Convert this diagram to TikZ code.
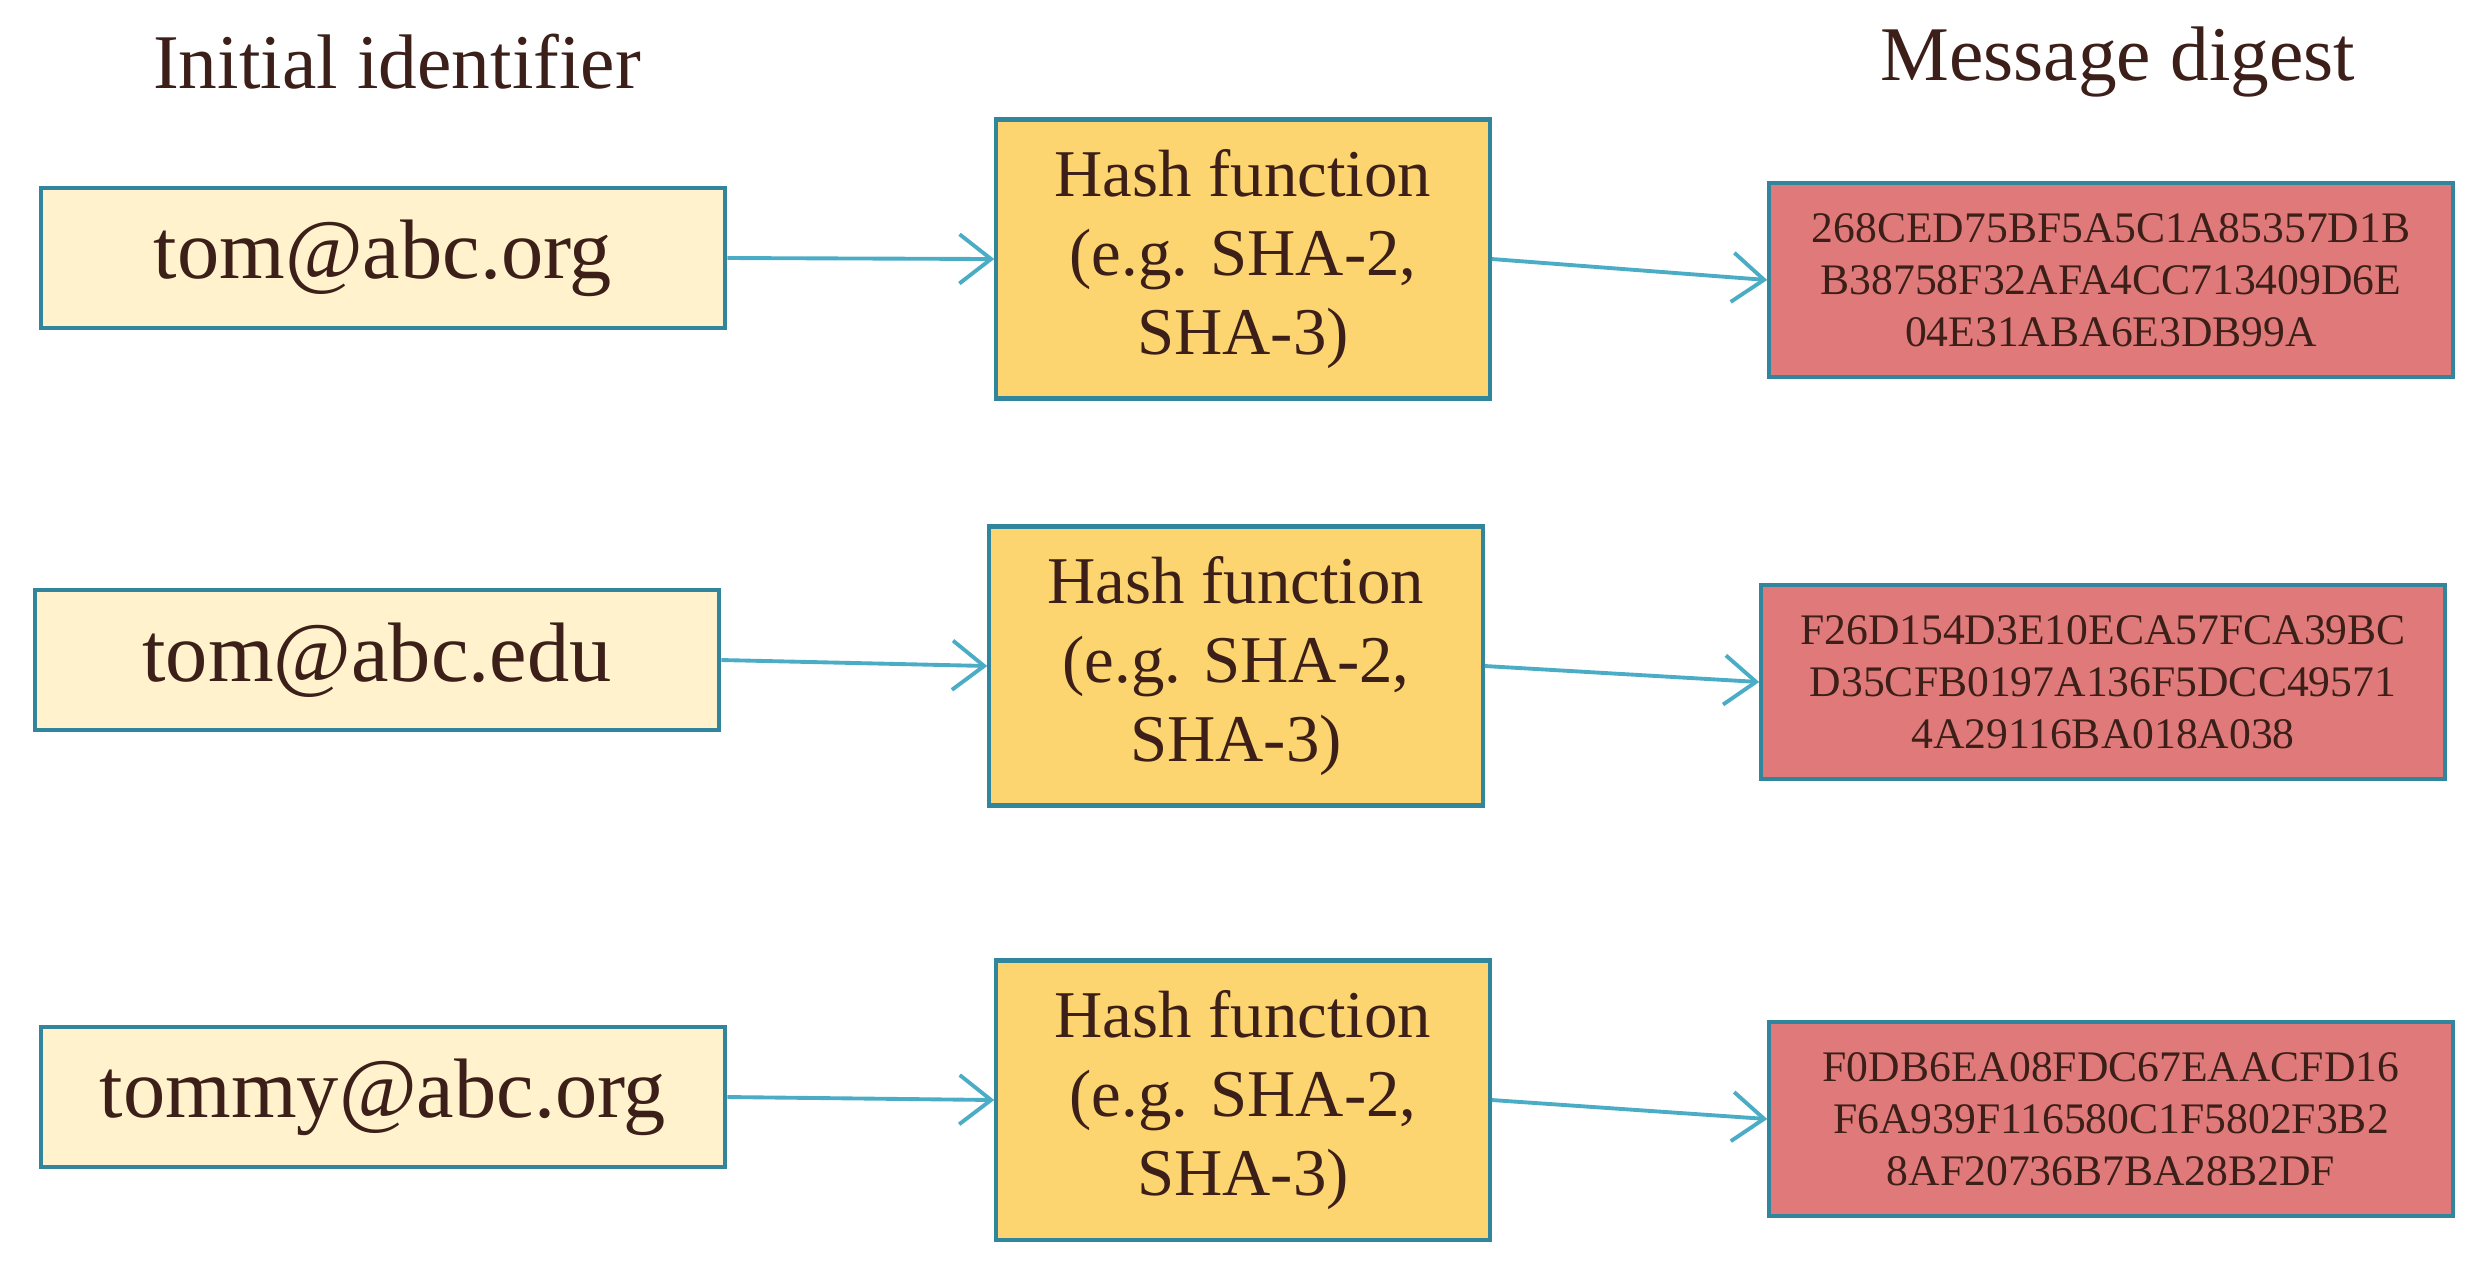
\documentclass[tikz,border=0pt]{standalone}
\usepackage{fontspec}
\setmainfont{Liberation Serif}
\usetikzlibrary{arrows.meta}
\definecolor{txt}{HTML}{3B1F18}
\definecolor{edge}{HTML}{31859C}
\definecolor{arr}{HTML}{4BACC6}
\definecolor{inbg}{HTML}{FFF2CC}
\definecolor{hashbg}{HTML}{FCD571}
\definecolor{digbg}{HTML}{E07A7A}
\begin{document}
\begin{tikzpicture}[x=0.01cm,y=-0.01cm,
  box/.style={draw=edge,line width=1.2pt,text=txt,inner sep=0pt,align=center},
  inbox/.style={box,fill=inbg,minimum width=6.84cm,minimum height=1.40cm,font=\fontsize{24}{28}\selectfont},
  hashbox/.style={box,fill=hashbg,minimum width=4.93cm,minimum height=2.79cm,font=\fontsize{19}{22.5}\selectfont},
  digbox/.style={box,fill=digbg,minimum width=6.83cm,minimum height=1.94cm,font=\fontsize{12.4}{14.8}\selectfont},
  title/.style={text=txt,font=\fontsize{22}{26}\selectfont},
  conn/.style={draw=arr,line width=1.1pt,-{Straight Barb[length=9pt,width=14pt]}}]
\useasboundingbox (0,0) rectangle (2481,1262);
\node[title] (t1) at (397,62) {Initial identifier};
\node[title] (t2) at (2118,62) {Message digest};

\node[inbox] (i1) at (383,258) {tom@abc.org};
\node[inbox] (i2) at (377,660) {tom@abc.edu};
\node[inbox] (i3) at (383,1097) {tommy@abc.org};

\node[hashbox] (h1) at (1243,259) {Hash function\\(e.g. SHA-2,\\SHA-3)};
\node[hashbox] (h2) at (1236,666) {Hash function\\(e.g. SHA-2,\\SHA-3)};
\node[hashbox] (h3) at (1243,1100) {Hash function\\(e.g. SHA-2,\\SHA-3)};

\node[digbox] (d1) at (2111,280) {268CED75BF5A5C1A85357D1B\\B38758F32AFA4CC713409D6E\\04E31ABA6E3DB99A};
\node[digbox] (d2) at (2103,682) {F26D154D3E10ECA57FCA39BC\\D35CFB0197A136F5DCC49571\\4A29116BA018A038};
\node[digbox] (d3) at (2111,1119) {F0DB6EA08FDC67EAACFD16\\F6A939F116580C1F5802F3B2\\8AF20736B7BA28B2DF};

\foreach \n in {1,2,3}{
  \draw[conn] (i\n.east) -- (h\n.west);
  \draw[conn] (h\n.east) -- (d\n.west);
}
\end{tikzpicture}
\end{document}
